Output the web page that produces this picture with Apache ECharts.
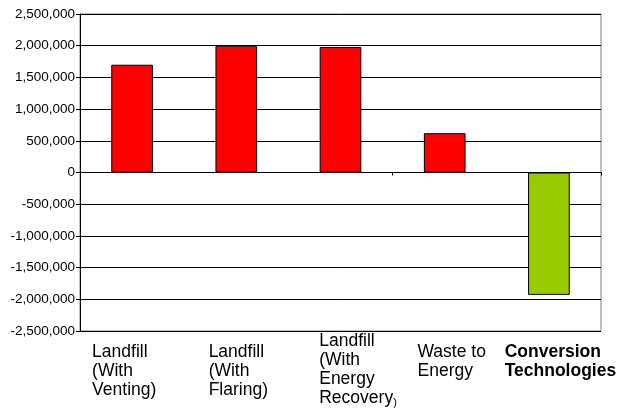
<!DOCTYPE html>
<html>
<head>
<meta charset="utf-8">
<script src="https://cdn.jsdelivr.net/npm/echarts@6/dist/echarts.min.js"></script>
<style>
  html, body { margin: 0; padding: 0; background: #fff; }
  #chart { width: 639px; height: 417px; }
</style>
</head>
<body>
<div id="chart"></div>
<script>
// Net emissions by waste management option
const categories = [
  'Landfill (With Venting)',
  'Landfill (With Flaring)',
  'Landfill (With Energy Recovery)',
  'Waste to Energy',
  'Conversion Technologies'
];
// Category label lines as printed under each column
const labelLines = [
  ['Landfill', '(With', 'Venting)'],
  ['Landfill', '(With', 'Flaring)'],
  ['Landfill', '(With', 'Energy', 'Recovery'],
  ['Waste to', 'Energy'],
  ['Conversion', 'Technologies']
];
const values = [1700000, 2000000, 1980000, 620000, -1930000];
const barColors = ['#FF0000', '#FF0000', '#FF0000', '#FF0000', '#99CC00'];
const yTicks = { min: -2500000, max: 2500000, step: 500000 };

const FONT = 'Arial, "Liberation Sans", sans-serif';

// Each label is a block centred on its column; lines are left-aligned in it.
// The first (empty) line sets a minimum block width and the vertical drop,
// and every line gets a small left indent.
const blockWidth = [80, 0, 0, 0, 0];
const indent = [0, 4, 35, 14, 23];
const dropHeight = [12, 12, 1, 12, 12];

const rich = {};
labelLines.forEach((lines, i) => {
  rich['g' + i] = { align: 'left', width: blockWidth[i], height: dropHeight[i], lineHeight: dropHeight[i], fontSize: 1 };
  rich['p' + i] = { align: 'left', width: indent[i], fontSize: 1, lineHeight: 19 };
  rich['t' + i] = {
    align: 'left', fontSize: 17.5, lineHeight: 19,
    fontFamily: FONT, color: '#000',
    fontWeight: i === 4 ? 'bold' : 'normal'
  };
});
rich.small = { align: 'left', fontSize: 11, lineHeight: 19, fontFamily: FONT, color: '#000', verticalAlign: 'bottom', padding: [5, 0, 0, 0] };

function fmt(v) {
  const s = Math.abs(v).toString().replace(/\B(?=(\d{3})+(?!\d))/g, ',');
  return (v < 0 ? '-' : '') + s;
}

const chart = echarts.init(document.getElementById('chart'));
chart.setOption({
  animation: false,
  backgroundColor: '#fff',
  grid: {
    left: 80, right: 38, top: 14, bottom: 86,
    show: true, borderColor: '#808080', borderWidth: 1, backgroundColor: 'transparent'
  },
  xAxis: [
    {
      type: 'category',
      data: categories,
      axisLine: { onZero: true, lineStyle: { color: '#000', width: 1 } },
      axisTick: { show: true, length: 3, lineStyle: { color: '#000' } },
      axisLabel: { show: false },
      splitLine: { show: false }
    },
    {
      type: 'category',
      data: categories,
      position: 'bottom',
      axisLine: { show: false, onZero: false },
      axisTick: { show: false },
      axisLabel: {
        show: true, interval: 0, margin: 0, align: 'center', verticalAlign: 'top',
        formatter: (val, idx) => {
          const lines = labelLines[idx].map(ln => '{p' + idx + '|}{t' + idx + '|' + ln + '}');
          if (idx === 2) lines[lines.length - 1] += '{small|)}';
          return ['{g' + idx + '|}'].concat(lines).join('\n');
        },
        rich: rich
      },
      splitLine: { show: false }
    }
  ],
  yAxis: {
    type: 'value',
    min: yTicks.min, max: yTicks.max, interval: yTicks.step,
    axisLine: { show: true, lineStyle: { color: '#000', width: 1 } },
    axisTick: { show: true, length: 4, lineStyle: { color: '#000' } },
    axisLabel: {
      margin: 5, fontSize: 13.5, color: '#000', fontFamily: FONT,
      formatter: fmt
    },
    splitLine: { show: true, lineStyle: { color: '#000', width: 1 } }
  },
  series: [{
    type: 'bar',
    xAxisIndex: 0,
    barWidth: '40%',
    data: values.map((v, i) => ({
      value: v,
      itemStyle: { color: barColors[i], borderColor: '#000', borderWidth: 1 }
    }))
  }]
});
</script>
</body>
</html>
